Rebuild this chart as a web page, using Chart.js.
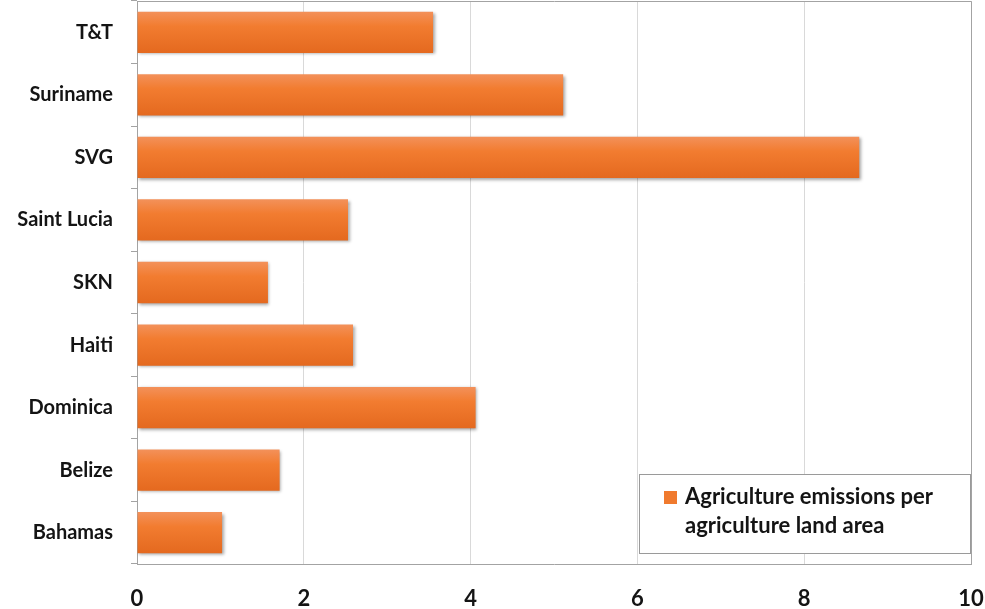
<!DOCTYPE html>
<html>
<head>
<meta charset="utf-8">
<script src="https://cdn.jsdelivr.net/npm/chart.js@4.4.1/dist/chart.umd.min.js"></script>
<style>
  html, body { margin: 0; padding: 0; background: #ffffff; }
  #wrap { width: 985px; height: 609px; }
</style>
</head>
<body>
<div id="wrap"><canvas id="c" width="985" height="609"></canvas></div>
<script>
// Agriculture emissions per unit of agricultural land, by country
const countries = ['T&T', 'Suriname', 'SVG', 'Saint Lucia', 'SKN', 'Haiti', 'Dominica', 'Belize', 'Bahamas'];
const emissions = [3.55, 5.11, 8.66, 2.53, 1.57, 2.59, 4.06, 1.71, 1.02];
const xTicks = [0, 2, 4, 6, 8, 10];
const legendLines = ['Agriculture emissions per', 'agriculture land area'];

const FONT = 'Lato, "Open Sans", sans-serif';
const TEXT = '#141414';
const AXIS = '#a3a3a3';

// vertical orange gradient spanning each bar's own height
function barFill(ctx) {
  const chart = ctx.chart;
  const y = chart.scales.y;
  if (!chart.chartArea || !y || ctx.dataIndex === undefined) return '#F07A2E';
  const centre = y.getPixelForValue(ctx.dataIndex);
  const half = y.height / countries.length * 0.66 / 2;
  const g = chart.ctx.createLinearGradient(0, centre - half, 0, centre + half);
  g.addColorStop(0, '#F3915A');
  g.addColorStop(0.35, '#F27C30');
  g.addColorStop(1, '#E4691F');
  return g;
}

// soft drop shadow under the bars
const barShadow = {
  id: 'barShadow',
  beforeDatasetsDraw(chart) {
    const c = chart.ctx;
    c.save();
    c.shadowColor = 'rgba(0,0,0,0.35)';
    c.shadowBlur = 3;
    c.shadowOffsetX = 1.5;
    c.shadowOffsetY = 1.5;
  },
  afterDatasetsDraw(chart) {
    chart.ctx.restore();
  }
};

// frame around the plot plus a boxed two-line legend
const frameAndLegend = {
  id: 'frameAndLegend',
  afterDraw(chart) {
    const c = chart.ctx;
    const a = chart.chartArea;
    c.save();
    c.strokeStyle = AXIS;
    c.lineWidth = 1;
    c.beginPath();
    c.moveTo(Math.round(a.left) + 0.5, Math.round(a.top) + 0.5);
    c.lineTo(Math.round(a.right) + 0.5, Math.round(a.top) + 0.5);
    c.lineTo(Math.round(a.right) + 0.5, Math.round(a.bottom) + 0.5);
    c.stroke();

    const bx = 639.5, by = 474.5, bw = 331, bh = 79;
    c.fillStyle = '#ffffff';
    c.fillRect(bx, by, bw, bh);
    c.strokeStyle = '#9a9a9a';
    c.strokeRect(bx, by, bw, bh);

    c.fillStyle = '#F07A2E';
    c.fillRect(664, 491, 13, 13);
    c.fillStyle = TEXT;
    c.font = 'bold 22px ' + FONT;
    c.textBaseline = 'middle';
    c.textAlign = 'left';
    c.fillText(legendLines[0], 685, 497);
    c.fillText(legendLines[1], 685, 526);
    c.restore();
  }
};

new Chart(document.getElementById('c'), {
  type: 'bar',
  data: {
    labels: countries,
    datasets: [{
      label: legendLines.join(' '),
      data: emissions,
      backgroundColor: barFill,
      borderWidth: 0,
      categoryPercentage: 1,
      barPercentage: 0.66
    }]
  },
  options: {
    indexAxis: 'y',
    responsive: false,
    devicePixelRatio: 1,
    animation: false,
    layout: { padding: { top: 1, right: 14, left: 0, bottom: 0 } },
    plugins: {
      legend: { display: false },
      tooltip: { enabled: true }
    },
    scales: {
      x: {
        min: 0,
        max: 10,
        afterBuildTicks(scale) { scale.ticks = xTicks.map(v => ({ value: v })); },
        ticks: {
          color: TEXT,
          font: { family: FONT, size: 22, weight: 'bold' },
          padding: 22
        },
        grid: { color: '#d9d9d9', drawTicks: false },
        border: { color: AXIS },
        afterFit(scale) {
          scale.height = 45;
          scale.paddingLeft = 0;
          scale.paddingRight = 0;
        }
      },
      y: {
        ticks: {
          color: TEXT,
          font: { family: FONT, size: 20, weight: 'bold' },
          padding: 18
        },
        grid: { drawOnChartArea: false, color: AXIS, tickLength: 6, offset: true },
        border: { color: AXIS },
        afterFit(scale) {
          scale.width = 137;
          scale.paddingTop = 0;
          scale.paddingBottom = 0;
        }
      }
    }
  },
  plugins: [barShadow, frameAndLegend]
});
</script>
</body>
</html>
